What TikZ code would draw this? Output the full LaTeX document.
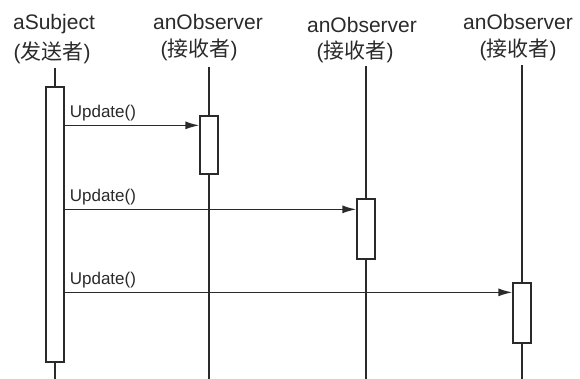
\documentclass[tikz,border=0pt]{standalone}
\usepackage{fontspec}
\setmainfont{Liberation Sans}
\newfontfamily\cjk{Noto Sans CJK SC}
\usetikzlibrary{arrows.meta}
\definecolor{ink}{HTML}{2A2A2A}
\tikzset{
  hdr/.style={inner sep=0pt, text=ink, font=\fontsize{21}{24}\selectfont},
  act/.style={draw=ink, fill=white, line width=1.3pt, minimum width=18pt, inner sep=0pt},
  life/.style={draw=ink, line width=1.3pt},
  msg/.style={draw=ink, line width=1.5pt, -{Latex[length=14pt,width=8pt]}},
  lbl/.style={inner sep=0pt, text=ink, font=\fontsize{17}{19}\selectfont, anchor=south west}
}
\begin{document}
\begin{tikzpicture}[x=1pt,y=-1pt]
\useasboundingbox (0,0) rectangle (580,379);
% headers
\node[hdr, anchor=base] (hs) at (54,30) {aSubject};
\node[hdr] (hs2) at (52,53) {(\cjk 发送者\rmfamily)};
\node[hdr, anchor=base] (h1) at (208,30) {anObserver};
\node[hdr] (h12) at (199,50) {(\cjk 接收者\rmfamily)};
\node[hdr, anchor=base] (h2) at (362,33) {anObserver};
\node[hdr] (h22) at (355,52) {(\cjk 接收者\rmfamily)};
\node[hdr, anchor=base] (h3) at (518,30) {anObserver};
\node[hdr] (h32) at (518,50) {(\cjk 接收者\rmfamily)};
% lifeline ends
\coordinate (ts) at (55,68);  \coordinate (bs) at (55,379);
\coordinate (t1) at (209,67); \coordinate (b1) at (209,379);
\coordinate (t2) at (366,66); \coordinate (b2) at (366,379);
\coordinate (t3) at (522,65); \coordinate (b3) at (522,379);
% activation boxes
\node[act, minimum height=275pt] (s) at (55,224.5) {};
\node[act, minimum height=58pt] (o1) at (209,145) {};
\node[act, minimum height=60pt] (o2) at (366,229) {};
\node[act, minimum height=60pt] (o3) at (522,313) {};
% lifelines
\draw[life] (ts) -- (s.north);
\draw[life] (s.south) -- (bs);
\draw[life] (t1) -- (o1.north);
\draw[life] (o1.south) -- (b1);
\draw[life] (t2) -- (o2.north);
\draw[life] (o2.south) -- (b2);
\draw[life] (t3) -- (o3.north);
\draw[life] (o3.south) -- (b3);
% messages
\coordinate (e1) at ([yshift=-10pt]o1.north west);
\coordinate (e2) at ([yshift=-11pt]o2.north west);
\coordinate (e3) at ([yshift=-10pt]o3.north west);
\draw[msg] (s.east |- e1) -- (e1);
\draw[msg] (s.east |- e2) -- (e2);
\draw[msg] (s.east |- e3) -- (e3);
\node[lbl] (u1) at ([xshift=5pt,yshift=4pt]s.east |- e1) {Update()};
\node[lbl] (u2) at ([xshift=5pt,yshift=4pt]s.east |- e2) {Update()};
\node[lbl] (u3) at ([xshift=5pt,yshift=4pt]s.east |- e3) {Update()};
\end{tikzpicture}
\end{document}
